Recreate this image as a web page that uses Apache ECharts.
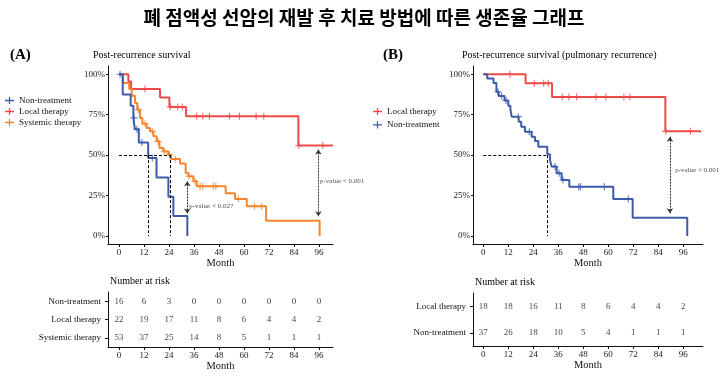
<!DOCTYPE html>
<html>
<head>
<meta charset="utf-8">
<script src="https://cdn.jsdelivr.net/npm/echarts@6.0.0/dist/echarts.min.js"></script>
<style>
  html, body { margin: 0; padding: 0; background: #fff; }
  #chart { width: 728px; height: 378px; }
</style>
</head>
<body>
<div id="chart"></div>
<script>
const monthTicks = [0, 12, 24, 36, 48, 60, 72, 84, 96];
const survTicks = [0, 25, 50, 75, 100];

// panel A curves: [month, survival %], value holds until next point
const aNonTreat = [[0, 100], [1.8, 87.5], [5.6, 80.5], [6.9, 73], [7.6, 66], [9.5, 57.8], [14, 48.2], [18, 36.2], [23.7, 24.3], [26.1, 12.3], [32.8, 0]];
const aLocal = [[0, 100], [4.5, 95.5], [5.8, 90.9], [19.7, 85.7], [24.2, 79.8], [32.2, 74], [86.1, 55.9], [102.7, 55.9]];
const aSystemic = [[0, 100], [1.8, 94.6], [4.9, 90.9], [6.1, 86.7], [7.7, 82.2], [8.8, 78.1], [10.1, 73], [11.2, 69.4], [13.3, 66.8], [14.9, 64.7], [16.5, 61.6], [18.1, 58.5], [19.4, 54.4], [21.3, 52.3], [23.7, 50.3], [25, 47.6], [29.3, 44.8], [32, 39], [33.3, 36.9], [35.7, 33.8], [37.3, 30.7], [51.2, 26.5], [55.7, 22.8], [61.3, 18.4], [70.6, 9.4], [96.3, 0]];
// censored times
const aNonTreatCens = [0.5, 7.2, 8.6, 11, 16];
const aLocalCens = [12.5, 24.6, 28.2, 30.4, 37.3, 40.2, 43.4, 53, 57.8, 65.8, 69.5, 86.3, 97.8];
const aSystemicCens = [9.3, 12.5, 16, 18.7, 21.8, 24.2, 27, 33.6, 36.5, 38.9, 40.2, 45.3, 46.5, 57.3, 65, 68.5];
const aMedians = [14.1, 24.5];

// panel B curves
const bLocal = [[0, 100], [20.3, 94.4], [33, 86], [87.4, 64.7], [104.5, 64.7]];
const bNonTreat = [[0, 100], [1.9, 97.3], [4.9, 94.6], [6.3, 89.2], [7.4, 86.5], [10.2, 83.8], [12, 80.5], [13, 78.4], [13.6, 73.8], [17, 70.7], [18.2, 67.6], [20, 64.5], [23.2, 61.4], [24.8, 58.8], [26.4, 55.2], [30.7, 50.5], [32, 47], [32.8, 42.9], [35.2, 38.8], [37.6, 34.6], [41.3, 30.5], [62.4, 22.9], [71.7, 11.3], [97.9, 0]];
const bLocalCens = [12.8, 24.5, 29, 31.2, 37.9, 41.1, 44.8, 54.1, 58.9, 67.5, 70.4, 87.6, 99.5];
const bNonTreatCens = [7.0, 8.8, 10.9, 16.8, 22.1, 34.4, 36.4, 38.3, 45.8, 46.6, 58.1, 69.6];
const bMedians = [30.7];

// p-value arrows: [month, from %, to %], labels: [month, %, text]
const aArrows = [[32.8, 33.8, 13.9], [95.7, 53.4, 12.2]];
const aPLabels = [[33.7, 18.7, 'p-value < 0.027'], [96.5, 33.6, 'p-value < 0.001']];
const bArrows = [[89.6, 61.4, 14]];
const bPLabels = [[92.1, 40.8, 'p-value < 0.001']];

// number at risk
const aRiskRows = ['Non-treatment', 'Local therapy', 'Systemic therapy'];
const aRiskNonTreat = [16, 6, 3, 0, 0, 0, 0, 0, 0];
const aRiskLocal = [22, 19, 17, 11, 8, 6, 4, 4, 2];
const aRiskSystemic = [53, 37, 25, 14, 8, 5, 1, 1, 1];
const bRiskRows = ['Local therapy', 'Non-treatment'];
const bRiskLocal = [18, 18, 16, 11, 8, 6, 4, 4, 2];
const bRiskNonTreat = [37, 26, 18, 10, 5, 4, 1, 1, 1];

const BLUE = '#3d5ba9', RED = '#ef4a4a', ORANGE = '#f5852f';
const serif = 'Liberation Serif';
const plusPath = 'path://M4.2,0H5.8V10H4.2Z M0,4.2H10V5.8H0Z';
const legendIcon = 'path://M0,4.3H10V5.7H0Z M4.3,1H5.7V9H4.3Z';

const survAt = (curve, t) => {
  let s = curve[0][1];
  curve.forEach(p => { if (p[0] <= t) s = p[1]; });
  return s;
};

const km = (name, curve, color, gi) => ({
  name, type: 'line', step: 'end', data: curve, xAxisIndex: gi, yAxisIndex: gi,
  symbol: 'none', showSymbol: false, z: 3,
  lineStyle: { width: 2, color }, itemStyle: { color }
});

const cens = (name, curve, times, color, gi) => ({
  name: name + ' censor', type: 'scatter', xAxisIndex: gi, yAxisIndex: gi, z: 4,
  symbol: plusPath, symbolSize: 7, itemStyle: { color },
  data: times.map(t => [t, survAt(curve, t)])
});

const annot = (gi, medians, arrows, labels) => {
  const maxMed = Math.max(...medians);
  const dash = [[{ coord: [0, 50] }, { coord: [maxMed, 50] }]];
  medians.forEach(m => dash.push([{ coord: [m, 50] }, { coord: [m, 0] }]));
  return [
    {
      type: 'scatter', xAxisIndex: gi, yAxisIndex: gi, symbolSize: 0, z: 5,
      data: labels.map(l => ({ value: [l[0], l[1]], name: l[2] })),
      label: { show: true, position: [0, 0], align: 'left', verticalAlign: 'middle', formatter: '{b}',
        fontFamily: serif, fontSize: 7, color: '#222' },
      markLine: {
        silent: true, symbol: 'none', animation: false, label: { show: false },
        lineStyle: { type: [3, 2], color: '#000', width: 1 },
        data: dash
      }
    },
    {
      type: 'scatter', xAxisIndex: gi, yAxisIndex: gi, symbolSize: 0, data: [[0, -100]],
      markLine: {
        silent: true, symbol: ['arrow', 'arrow'], symbolSize: 5, animation: false, label: { show: false },
        lineStyle: { type: [2, 1], color: '#333', width: 1 },
        data: arrows.map(a => [{ coord: [a[0], a[1]] }, { coord: [a[0], a[2]] }])
      }
    }
  ];
};

const risk = (row, vals, gi) => ({
  type: 'scatter', xAxisIndex: gi, yAxisIndex: gi, symbolSize: 0,
  data: monthTicks.map((m, i) => [m, row, vals[i]]),
  label: { show: true, position: 'inside', formatter: p => p.value[2],
    fontFamily: serif, fontSize: 9, color: '#111' }
});

const axisLine = { show: true, onZero: false, lineStyle: { color: '#111', width: 1 } };
const tick = len => ({ show: true, length: len, lineStyle: { color: '#111' } });
const lbl = (extra) => Object.assign({ fontFamily: serif, fontSize: 9, color: '#222' }, extra);

const monthAxis = (gi, min, max) => ({
  type: 'value', gridIndex: gi, min, max,
  axisLine, splitLine: { show: false },
  axisTick: Object.assign(tick(3), { customValues: monthTicks }),
  axisLabel: lbl({ margin: 4, customValues: monthTicks }),
  name: 'Month', nameLocation: 'middle', nameGap: 14,
  nameTextStyle: { fontFamily: serif, fontSize: 10.5, color: '#111' }
});
const survAxis = gi => ({
  type: 'value', gridIndex: gi, min: -4.95, max: 105.1,
  axisLine, splitLine: { show: false },
  axisTick: Object.assign(tick(2), { customValues: survTicks }),
  axisLabel: lbl({ margin: 3, customValues: survTicks, formatter: '{value}%' })
});
const rowAxis = (gi, rows) => ({
  type: 'category', gridIndex: gi, data: rows, inverse: true,
  axisLine, splitLine: { show: false },
  axisTick: Object.assign(tick(3), { alignWithLabel: true }),
  axisLabel: lbl({ margin: 7, color: '#111' })
});

const titleStyle = (size, bold, fam) => ({ fontFamily: fam || serif, fontSize: size, fontWeight: bold ? 'bold' : 'normal', color: '#000' });

const option = {
  animation: false,
  backgroundColor: '#fff',
  title: [
    { text: '폐 점액성 선암의 재발 후 치료 방법에 따른 생존율 그래프', left: 'center', top: 8, padding: 0,
      textStyle: titleStyle(19, true, 'Noto Sans CJK KR') },
    { text: '(A)', left: 10, top: 48, padding: 0, textStyle: titleStyle(15, true) },
    { text: '(B)', left: 383, top: 48, padding: 0, textStyle: titleStyle(15, true) },
    { text: 'Post-recurrence survival', left: 93, top: 50, padding: 0, textStyle: titleStyle(10) },
    { text: 'Post-recurrence survival (pulmonary recurrence)', left: 462, top: 50, padding: 0, textStyle: titleStyle(10) },
    { text: 'Number at risk', left: 110, top: 276, padding: 0, textStyle: titleStyle(10) },
    { text: 'Number at risk', left: 475, top: 277, padding: 0, textStyle: titleStyle(10) }
  ],
  legend: [
    { data: ['Non-treatment', 'Local therapy', 'Systemic therapy'], orient: 'vertical', left: 5, top: 96,
      padding: 0, itemWidth: 9, itemHeight: 8, itemGap: 2, itemTextGap: 3, icon: legendIcon,
      textStyle: { fontFamily: serif, fontSize: 9, color: '#111' } },
    { data: ['Local therapy', 'Non-treatment'], orient: 'vertical', left: 373, top: 107,
      padding: 0, itemWidth: 9, itemHeight: 8, itemGap: 4.3, itemTextGap: 3, icon: legendIcon,
      textStyle: { fontFamily: serif, fontSize: 9, color: '#111' } }
  ],
  grid: [
    { left: 108, top: 66, width: 225, height: 178 },
    { left: 473, top: 66, width: 230, height: 178 },
    { left: 108, top: 292, width: 225, height: 55 },
    { left: 473, top: 293, width: 230, height: 53 }
  ],
  xAxis: [
    monthAxis(0, -5.28, 102.72),
    monthAxis(1, -4.94, 105.46),
    Object.assign(monthAxis(2, -5.28, 102.72), { nameGap: 12 }),
    Object.assign(monthAxis(3, -4.94, 105.46), { nameGap: 12 })
  ],
  yAxis: [survAxis(0), survAxis(1), rowAxis(2, aRiskRows), rowAxis(3, bRiskRows)],
  series: [
    ...annot(0, aMedians, aArrows, aPLabels),
    ...annot(1, bMedians, bArrows, bPLabels),
    km('Local therapy', aLocal, RED, 0),
    km('Systemic therapy', aSystemic, ORANGE, 0),
    km('Non-treatment', aNonTreat, BLUE, 0),
    cens('Local therapy', aLocal, aLocalCens, RED, 0),
    cens('Systemic therapy', aSystemic, aSystemicCens, ORANGE, 0),
    cens('Non-treatment', aNonTreat, aNonTreatCens, BLUE, 0),
    km('Local therapy', bLocal, RED, 1),
    km('Non-treatment', bNonTreat, BLUE, 1),
    cens('Local therapy', bLocal, bLocalCens, RED, 1),
    cens('Non-treatment', bNonTreat, bNonTreatCens, BLUE, 1),
    risk('Non-treatment', aRiskNonTreat, 2),
    risk('Local therapy', aRiskLocal, 2),
    risk('Systemic therapy', aRiskSystemic, 2),
    risk('Local therapy', bRiskLocal, 3),
    risk('Non-treatment', bRiskNonTreat, 3)
  ]
};

const chart = echarts.init(document.getElementById('chart'), null, { renderer: 'canvas' });
chart.setOption(option);
</script>
</body>
</html>
